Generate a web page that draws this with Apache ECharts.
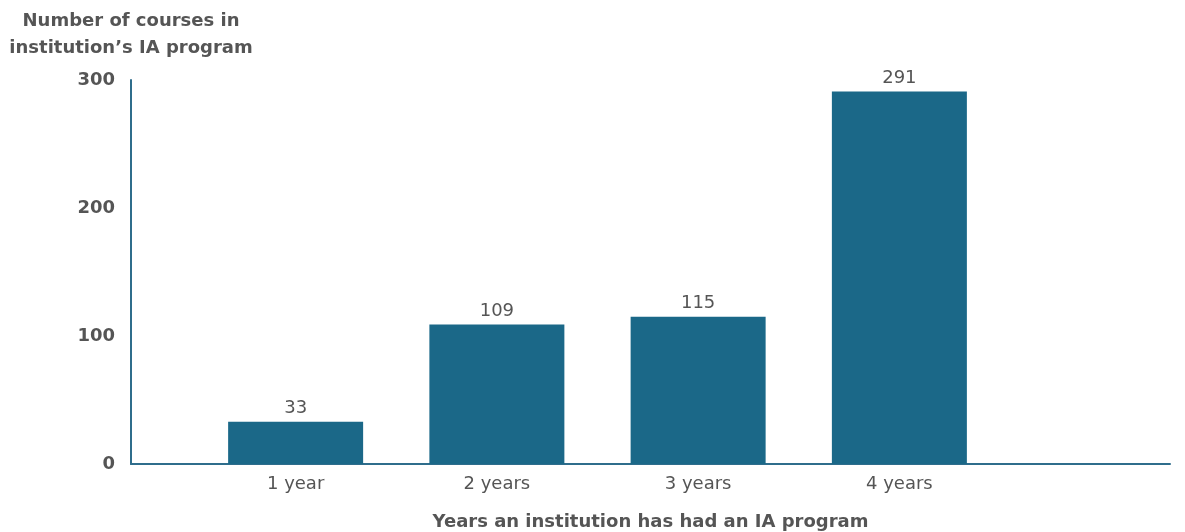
<!DOCTYPE html>
<html><head><meta charset="utf-8">
<script src="https://cdn.jsdelivr.net/npm/echarts@6/dist/echarts.min.js"></script>
<style>html,body{margin:0;padding:0;background:#fff}#c{width:1185px;height:532px}</style>
</head><body><div id="c"></div>
<script>
const categories = ['1 year', '2 years', '3 years', '4 years'];
const courses = [33, 109, 115, 291];
const yTicks = [0, 100, 200, 300];

const textColor = '#555555';
const barColor = '#1b6888';
const axisColor = '#2f6d8c';
const font = '"DejaVu Sans", sans-serif';

const chart = echarts.init(document.getElementById('c'), null, {renderer: 'canvas'});
chart.setOption({
  animation: false,
  textStyle: {fontFamily: font},
  grid: [
    {left: 131, right: 15, top: 80, bottom: 68, containLabel: false, outerBoundsMode: 'none'},
    {left: 195, width: 805, top: 80, bottom: 68, containLabel: false, outerBoundsMode: 'none'}
  ],
  xAxis: [
    {gridIndex: 0, type: 'value', min: 0, max: 1, show: true,
     axisLine: {show: true, lineStyle: {color: axisColor, width: 2}},
     axisTick: {show: false}, axisLabel: {show: false}, splitLine: {show: false},
     name: 'Years an institution has had an IA program', nameLocation: 'middle', nameGap: 49,
     nameTextStyle: {fontFamily: font, fontWeight: 'bold', fontSize: 18, color: textColor}},
    {gridIndex: 1, type: 'category', data: categories,
     axisLine: {show: false}, axisTick: {show: false},
     axisLabel: {color: textColor, fontSize: 18, margin: 11, fontFamily: font}}
  ],
  yAxis: [
    {gridIndex: 0, type: 'value', min: 0, max: 300, interval: 100,
     axisLine: {show: true, lineStyle: {color: axisColor, width: 2}},
     axisTick: {show: false}, splitLine: {show: false},
     axisLabel: {color: textColor, fontSize: 18, fontWeight: 'bold', margin: 16, fontFamily: font},
     name: 'Number of courses in\ninstitution\u2019s IA program', nameLocation: 'end',
     nameGap: 18,
     nameTextStyle: {fontFamily: font, fontWeight: 'bold', fontSize: 18, color: textColor, lineHeight: 27, align: 'center'}},
    {gridIndex: 1, type: 'value', min: 0, max: 300, interval: 100, show: false}
  ],
  series: [{
    type: 'bar', xAxisIndex: 1, yAxisIndex: 1, data: courses,
    barWidth: 135, itemStyle: {color: barColor},
    label: {show: true, position: 'top', color: textColor, fontSize: 18, distance: 4, fontFamily: font}
  }]
});
</script></body></html>
